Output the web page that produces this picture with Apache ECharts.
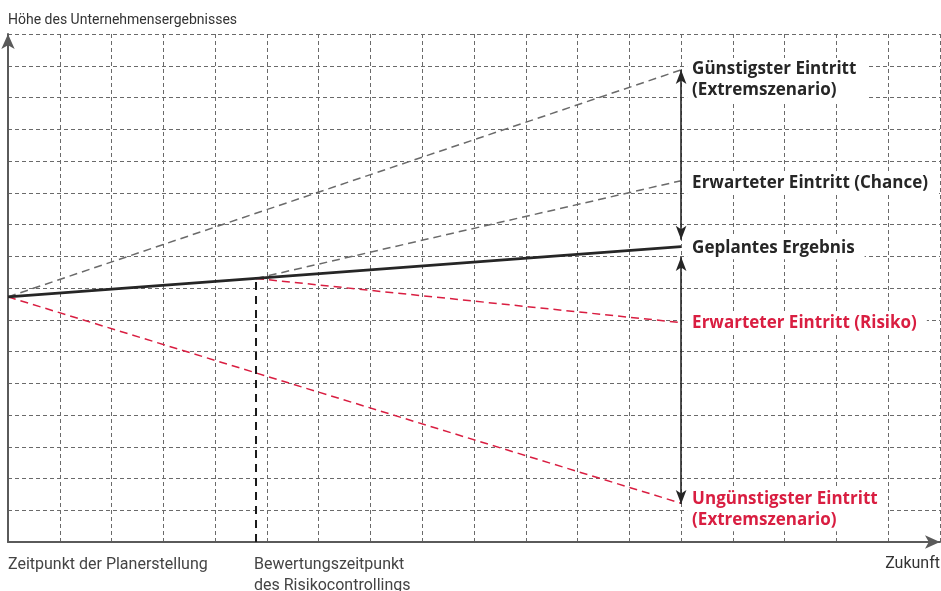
<!DOCTYPE html>
<html>
<head>
<meta charset="utf-8">
<script src="https://cdn.jsdelivr.net/npm/echarts@6/dist/echarts.min.js"></script>
<style>
  html, body { margin: 0; padding: 0; background: #fff; }
  #chart { width: 941px; height: 591px; }
</style>
</head>
<body>
<div id="chart"></div>
<script>
// Time positions on the horizontal scale (grid units)
const xPlan = 0;        // Zeitpunkt der Planerstellung
const xEval = 4.79;     // Bewertungszeitpunkt des Risikocontrollings
const xEnd = 13;        // Planungshorizont

// Result levels (grid units)
const startValue = 7.72;
const evalValue = 8.3;
const plannedEnd = 9.3;
const bestEnd = 14.87;
const chanceEnd = 11.38;
const riskEnd = 6.91;
const worstEnd = 1.22;

// Range arrows at the horizon
const upperArrow = [9.52, 14.87];
const lowerArrow = [8.98, 1.2];

// Scale extents
const xMax = 18;
const yMax = 16;

const FONT = 'Roboto, "Liberation Sans", sans-serif';
const LABEL_FONT = '"Open Sans", Roboto, sans-serif';
const RED = '#d91e41';
const DARK = '#262626';
const GREY = '#6a6a6a';

const planned = [[xPlan, startValue], [xEval, evalValue], [xEnd, plannedEnd]];
const best = [[xPlan, startValue], [xEnd, bestEnd]];
const chance = [[xEval, evalValue], [xEnd, chanceEnd]];
const risk = [[xEval, evalValue], [xEnd, riskEnd]];
const worst = [[xPlan, startValue], [xEnd, worstEnd]];
const evalDrop = [[xEval, 0], [xEval, evalValue]];

function endLabel(text, color, dy) {
  return {
    show: true,
    formatter: text,
    distance: 6,
    offset: [0, dy],
    color: color,
    fontFamily: LABEL_FONT,
    fontSize: 17,
    fontWeight: 'bold',
    lineHeight: 21,
    backgroundColor: '#fff',
    padding: [1, 10, 1, 5]
  };
}

const chart = echarts.init(document.getElementById('chart'), null, { renderer: 'canvas' });

chart.setOption({
  animation: false,
  backgroundColor: '#fff',
  grid: { left: 8, right: 1, top: 34, bottom: 49, containLabel: false },
  xAxis: {
    type: 'value', min: 0, max: xMax, interval: 1,
    axisLine: { show: true, lineStyle: { color: '#5a5a5a', width: 2 }, symbol: ['none', 'arrow'], symbolSize: [10, 15] },
    axisTick: { show: false },
    axisLabel: { show: false },
    splitLine: { show: true, lineStyle: { color: GREY, width: 1, type: [4, 3] } }
  },
  yAxis: {
    type: 'value', min: 0, max: yMax, interval: 1,
    axisLine: { show: true, onZero: false, lineStyle: { color: '#5a5a5a', width: 2 }, symbol: ['none', 'arrow'], symbolSize: [10, 15] },
    axisTick: { show: false },
    axisLabel: { show: false },
    splitLine: { show: true, lineStyle: { color: GREY, width: 1, type: [4, 3] } }
  },
  series: [
    {
      type: 'line', data: best, symbol: 'none', silent: true,
      lineStyle: { color: GREY, width: 1.5, type: [8, 5] },
      endLabel: endLabel('Günstigster Eintritt\n(Extremszenario)', DARK, 10)
    },
    {
      type: 'line', data: chance, symbol: 'none', silent: true,
      lineStyle: { color: GREY, width: 1.5, type: [8, 5] },
      endLabel: endLabel('Erwarteter Eintritt (Chance)', DARK, 2)
    },
    {
      type: 'line', data: risk, symbol: 'none', silent: true,
      lineStyle: { color: RED, width: 1.5, type: [8, 5] },
      endLabel: endLabel('Erwarteter Eintritt (Risiko)', RED, 1)
    },
    {
      type: 'line', data: worst, symbol: 'none', silent: true,
      lineStyle: { color: RED, width: 1.5, type: [8, 5] },
      endLabel: endLabel('Ungünstigster Eintritt\n(Extremszenario)', RED, 6)
    },
    {
      type: 'line', data: evalDrop, symbol: 'none', silent: true,
      lineStyle: { color: '#1a1a1a', width: 2, type: [8, 6] }
    },
    {
      type: 'line', data: planned, symbol: 'none', silent: true, z: 5,
      lineStyle: { color: DARK, width: 2.8 },
      endLabel: endLabel('Geplantes Ergebnis', DARK, 1),
      markLine: {
        silent: true,
        symbol: ['arrow', 'arrow'],
        symbolSize: [8, 14],
        label: { show: false },
        lineStyle: { color: DARK, width: 1.6, type: 'solid' },
        data: [
          [{ coord: [xEnd, upperArrow[0]] }, { coord: [xEnd, upperArrow[1]] }],
          [{ coord: [xEnd, lowerArrow[0]] }, { coord: [xEnd, lowerArrow[1]] }]
        ]
      }
    }
  ],
  graphic: [
    { type: 'text', left: 8, top: 13, style: { text: 'Höhe des Unternehmensergebnisses', fill: '#333', font: '14px ' + FONT } },
    { type: 'text', left: 8, top: 555, style: { text: 'Zeitpunkt der Planerstellung', fill: '#444', font: '16px ' + FONT, lineHeight: 20.5 } },
    { type: 'text', left: 254, top: 555, style: { text: 'Bewertungszeitpunkt\ndes Risikocontrollings', fill: '#444', font: '16px ' + FONT, lineHeight: 20.5 } },
    { type: 'text', right: 1, top: 554, style: { text: 'Zukunft', fill: '#333', font: '16px ' + FONT, lineHeight: 20.5 } }
  ]
});
</script>
</body>
</html>
